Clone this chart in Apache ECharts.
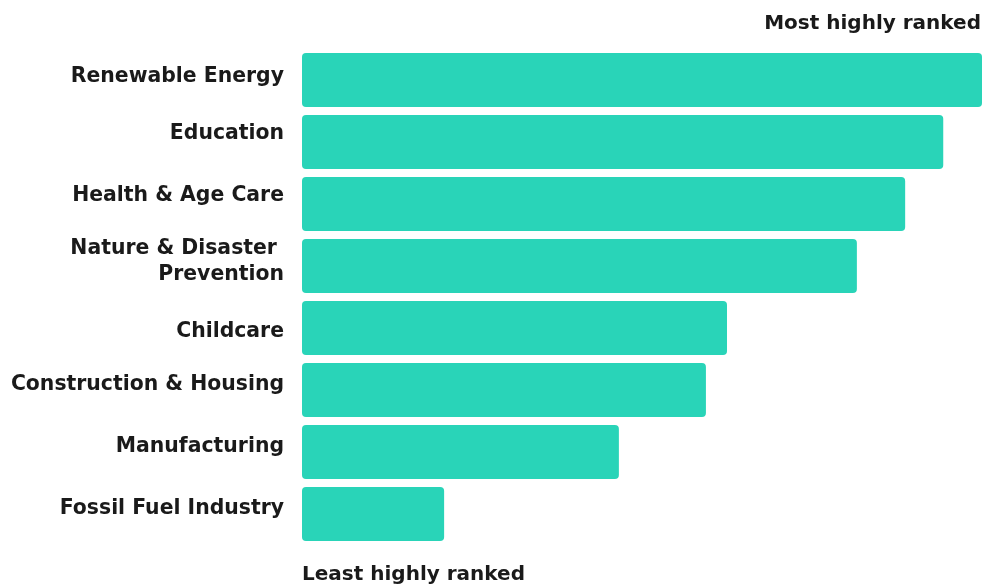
<!DOCTYPE html>
<html>
<head>
<meta charset="utf-8">
<script src="https://cdn.jsdelivr.net/npm/echarts@6/dist/echarts.min.js"></script>
<style>
html,body{margin:0;padding:0;background:#fff;}
#chart{width:984px;height:584px;}
</style>
</head>
<body>
<div id="chart"></div>
<script>
// Categories listed bottom-to-top (ECharts category y axis starts at the bottom)
var categories = [
  "Fossil Fuel Industry",
  "Manufacturing",
  "Construction & Housing",
  "Childcare",
  "Nature & Disaster \nPrevention",
  "Health & Age Care",
  "Education",
  "Renewable Energy"
];
var values = [20.9, 46.6, 59.4, 62.5, 81.6, 88.7, 94.3, 100];
var topLabel = "Most highly ranked";
var bottomLabel = "Least highly ranked";

// vertical nudge (px, positive = up) for each category label, as in the reference
var labelLift = [5.5, 5.5, 5.5, -4, 4.5, 8.5, 8, 3.5];

var FONT = '"DejaVu Sans", sans-serif';
var TEXT = '#1a1a1a';

var rich = {};
labelLift.forEach(function (l, i) {
  rich['g' + i] = {fontSize: 1, lineHeight: Math.max(1, 2 * Math.abs(l))};
});

var chart = echarts.init(document.getElementById('chart'), null, {renderer: 'canvas'});
chart.setOption({
  animation: false,
  backgroundColor: '#ffffff',
  title: [
    {text: topLabel, right: 3, top: 14, padding: 0,
     textStyle: {fontFamily: FONT, fontWeight: 'bold', fontSize: 20, color: TEXT}},
    {text: bottomLabel, left: 302, top: 565, padding: 0,
     textStyle: {fontFamily: FONT, fontWeight: 'bold', fontSize: 20, color: TEXT}}
  ],
  grid: {left: 302, right: 2, top: 49, bottom: 39, containLabel: false},
  xAxis: {type: 'value', min: 0, max: 100, show: false},
  yAxis: {
    type: 'category', data: categories,
    axisLine: {show: false}, axisTick: {show: false}, splitLine: {show: false},
    axisLabel: {
      margin: 18, fontFamily: FONT, fontWeight: 'bold', fontSize: 20.4,
      color: TEXT, lineHeight: 26, align: 'right',
      formatter: function (value, index) {
        var l = labelLift[index];
        var gap = '{g' + index + '| }';
        return l >= 0 ? value + '\n' + gap : gap + '\n' + value;
      },
      rich: rich
    }
  },
  series: [{
    type: 'bar', data: values, barWidth: 54,
    itemStyle: {color: '#29D4B8', borderRadius: 4},
    silent: true
  }]
});
</script>
</body>
</html>
